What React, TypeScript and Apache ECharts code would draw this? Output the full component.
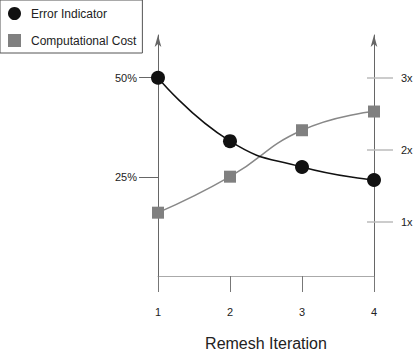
import React, { useEffect, useRef } from "react";
import * as echarts from "echarts";

const categories = ["1", "2", "3", "4"];
const errorValues = [50, 34.0, 27.5, 24.2];
const costValues = [1.125, 1.625, 2.27, 2.53];
const errorTicks = [25, 50];
const costTicks = [1, 2, 3];

const FONT = "Liberation Sans, Arial, Helvetica, sans-serif";

export default function App() {
  const ref = useRef<HTMLDivElement>(null);
  useEffect(() => {
    if (!ref.current) return;
    const chart = echarts.init(ref.current, null, { renderer: "svg" });
    chart.setOption({
      animation: false,
      backgroundColor: "#ffffff",
      textStyle: { fontFamily: FONT },
      legend: {
        orient: "vertical",
        left: 0,
        top: 0,
        padding: [7, 6, 6, 8],
        itemGap: 14,
        itemWidth: 13,
        itemHeight: 13,
        borderColor: "#555",
        borderWidth: 1,
        textStyle: { fontSize: 12, color: "#222", fontFamily: FONT, padding: [0, 0, 0, 5] },
        data: [
          { name: "Error Indicator", icon: "circle" },
          { name: "Computational Cost", icon: "rect" },
        ],
      },
      grid: { left: 158, right: 39, top: 35, bottom: 72, outerBoundsMode: "none", containLabel: false },
      xAxis: [
        {
          type: "category",
          data: categories,
          boundaryGap: false,
          position: "bottom",
          axisLine: { show: true, lineStyle: { color: "#aaa", width: 1 } },
          axisTick: { show: true, inside: false, length: 16, lineStyle: { color: "#777" } },
          axisLabel: { margin: 25, fontSize: 11, color: "#222", fontFamily: FONT },
          splitLine: { show: false },
          name: "Remesh Iteration",
          nameLocation: "middle",
          nameGap: 54,
          nameMoveOverlap: false,
          nameTextStyle: { fontSize: 16, color: "#222", fontFamily: FONT },
        },
        {
          type: "category",
          data: categories,
          boundaryGap: false,
          position: "bottom",
          axisLine: { show: false },
          axisTick: { show: true, inside: true, length: 5, lineStyle: { color: "#777" } },
          axisLabel: { show: false },
          splitLine: { show: false },
        },
      ],
      yAxis: [
        {
          type: "value",
          position: "left",
          min: -1.26,
          max: 60.77,
          axisLine: {
            show: true,
            lineStyle: { color: "#666", width: 1 },
            symbol: ["none", "arrow"],
            symbolSize: [5, 12],
          },
          axisTick: { show: true, length: 19, customValues: errorTicks, lineStyle: { color: "#666" } },
          axisLabel: {
            margin: 21,
            fontSize: 11,
            color: "#222",
            fontFamily: FONT,
            customValues: errorTicks,
            formatter: (v: number) => `${Math.round(v)}%`,
          },
          splitLine: { show: false },
        },
        {
          type: "value",
          position: "right",
          min: 0.176,
          max: 3.593,
          axisLine: {
            show: true,
            lineStyle: { color: "#666", width: 1 },
            symbol: ["none", "arrow"],
            symbolSize: [5, 12],
          },
          axisTick: { show: true, length: 19, customValues: costTicks, lineStyle: { color: "#bbb", width: 1.5 } },
          axisLabel: {
            margin: 27,
            fontSize: 11,
            color: "#222",
            fontFamily: FONT,
            customValues: costTicks,
            formatter: (v: number) => `${Math.round(v)}x`,
          },
          splitLine: { show: false },
        },
        {
          type: "value",
          position: "right",
          min: 0.176,
          max: 3.593,
          axisLine: { show: false },
          axisTick: { show: true, inside: true, length: 7, customValues: costTicks, lineStyle: { color: "#bbb", width: 1.5 } },
          axisLabel: { show: false },
          splitLine: { show: false },
        },
      ],
      series: [
        {
          name: "Error Indicator",
          type: "line",
          xAxisIndex: 0,
          yAxisIndex: 0,
          data: errorValues,
          smooth: true,
          symbol: "circle",
          symbolSize: 14,
          z: 3,
          lineStyle: { color: "#111", width: 1.5 },
          itemStyle: { color: "#111" },
        },
        {
          name: "Computational Cost",
          type: "line",
          xAxisIndex: 0,
          yAxisIndex: 1,
          data: costValues,
          smooth: true,
          symbol: "rect",
          symbolSize: 12,
          z: 2,
          lineStyle: { color: "#888", width: 1.5 },
          itemStyle: { color: "#808080" },
        },
      ],
    });
    return () => chart.dispose();
  }, []);
  return (
    <div
      ref={ref}
      style={{ position: "absolute", left: 0, top: 0, width: 413, height: 353 }}
    />
  );
}
